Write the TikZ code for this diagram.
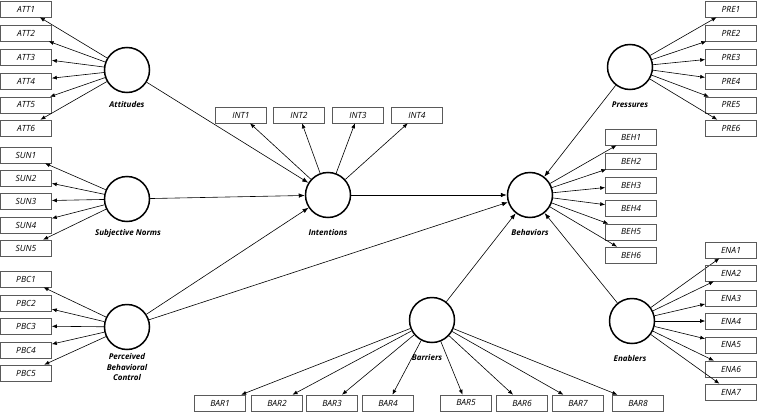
\documentclass[tikz,border=0pt]{standalone}
\usepackage{fontspec}
\setmainfont{Open Sans}
\usetikzlibrary{arrows.meta}
\definecolor{semBox}{RGB}{90,90,90}
\tikzset{
    latent/.style={circle, draw=black, line width=1.5pt, minimum size=45pt, inner sep=0pt},
    indicator/.style={rectangle, draw=semBox, line width=0.6pt, minimum width=51pt,
                      minimum height=16pt, inner sep=0pt, font=\fontsize{8.5}{10}\selectfont\itshape},
    caption/.style={font=\fontsize{8}{10.5}\selectfont\bfseries\itshape, align=center},
    load/.style={-{Latex[length=5pt,width=4pt]}, line width=0.6pt},
    effect/.style={-{Latex[length=6pt,width=4.5pt]}, line width=0.6pt}
}
\begin{document}
\begin{tikzpicture}[x=1pt, y=-1pt]
  \useasboundingbox (0,0) rectangle (759,412);

  % latent constructs
  \node[latent] (att) at (127,70) {};
  \node[latent] (sun) at (127,199) {};
  \node[latent] (pbc) at (127,327) {};
  \node[latent] (int) at (328,195) {};
  \node[latent] (beh) at (530,195) {};
  \node[latent] (pre) at (630,67) {};
  \node[latent] (ena) at (632,321) {};
  \node[latent] (bar) at (432,320) {};

  \node[caption] (attL) at (127,104) {Attitudes};
  \node[caption] (sunL) at (128,233) {Subjective Norms};
  \node[caption] (pbcL) at (127,367) {Perceived\\Behavioral\\Control};
  \node[caption] (intL) at (328,232) {Intentions};
  \node[caption] (behL) at (530,232) {Behaviors};
  \node[caption] (preL) at (630,105) {Pressures};
  \node[caption] (enaL) at (630,358) {Enablers};
  \node[caption] (barL) at (427,357) {Barriers};

  % indicators
  \foreach \i/\y in {1/9,2/33,3/57,4/81,5/105,6/128} {
    \node[indicator] (att\i) at (26,\y) {ATT\i};
    \draw[load] (att) -- (att\i);
  }
  \foreach \i/\y in {1/155,2/178,3/201,4/225,5/248} {
    \node[indicator] (sun\i) at (26,\y) {SUN\i};
    \draw[load] (sun) -- (sun\i);
  }
  \foreach \i/\y in {1/279,2/303,3/326,4/350,5/373} {
    \node[indicator] (pbc\i) at (26,\y) {PBC\i};
    \draw[load] (pbc) -- (pbc\i);
  }
  \foreach \i/\x in {1/241,2/299,3/358,4/417} {
    \node[indicator] (int\i) at (\x,115) {INT\i};
    \draw[load] (int) -- (int\i);
  }
  \foreach \i/\y in {1/9,2/33,3/57,4/81,5/105,6/128} {
    \node[indicator] (pre\i) at (731,\y) {PRE\i};
    \draw[load] (pre) -- (pre\i);
  }
  \foreach \i/\y in {1/137,2/161,3/185,4/208,5/232,6/255} {
    \node[indicator] (beh\i) at (631,\y) {BEH\i};
    \draw[load] (beh) -- (beh\i);
  }
  \foreach \i/\y in {1/250,2/273,3/298,4/321,5/345,6/369,7/392} {
    \node[indicator] (ena\i) at (731,\y) {ENA\i};
    \draw[load] (ena) -- (ena\i);
  }
  \foreach \i/\x in {1/220,2/277,3/332,4/388,5/466,6/522,7/578,8/638} {
    \node[indicator] (bar\i) at (\x,403) {BAR\i};
    \draw[load] (bar) -- (bar\i);
  }

  % structural paths
  \draw[effect] (att) -- (int);
  \draw[effect] (sun) -- (int);
  \draw[effect] (pbc) -- (int);
  \draw[effect] (pbc) -- (beh);
  \draw[effect] (int) -- (beh);
  \draw[effect] (pre) -- (beh);
  \draw[effect] (bar) -- (beh);
  \draw[effect] (ena) -- (beh);
\end{tikzpicture}
\end{document}
